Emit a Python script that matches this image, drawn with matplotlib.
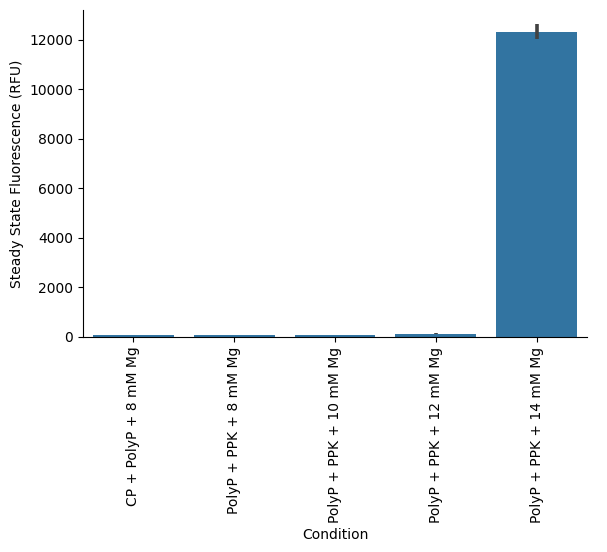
import matplotlib

matplotlib.use("Agg")
import matplotlib.pyplot as plt
import numpy as np

conditions = [
    "CP + PolyP + 8 mM Mg",
    "PolyP + PPK + 8 mM Mg",
    "PolyP + PPK + 10 mM Mg",
    "PolyP + PPK + 12 mM Mg",
    "PolyP + PPK + 14 mM Mg",
]
means = [75, 70, 68, 130, 12320]
err_low = [5, 5, 5, 20, 300]
err_high = [5, 5, 5, 50, 330]

fig = plt.figure(figsize=(6.07, 5.52), dpi=100)
ax = fig.add_axes([83 / 607, 1 - 337 / 552, 504 / 607, 327 / 552])
x = np.arange(len(conditions))
ax.bar(x, means, width=0.8, color="#3274a1")
ax.errorbar(x, means, yerr=[err_low, err_high], fmt="none", ecolor="#424242", elinewidth=2.6)
ax.set_xticks(x)
ax.set_xticklabels(conditions, rotation=90)
ax.set_xlim(-0.5, len(conditions) - 0.5)
ax.set_ylim(0, 13200)
ax.set_yticks(range(0, 12001, 2000))
ax.set_xlabel("Condition")
ax.set_ylabel("Steady State Fluorescence (RFU)")
ax.spines["top"].set_visible(False)
ax.spines["right"].set_visible(False)
fig.savefig("out.png", dpi=100)
